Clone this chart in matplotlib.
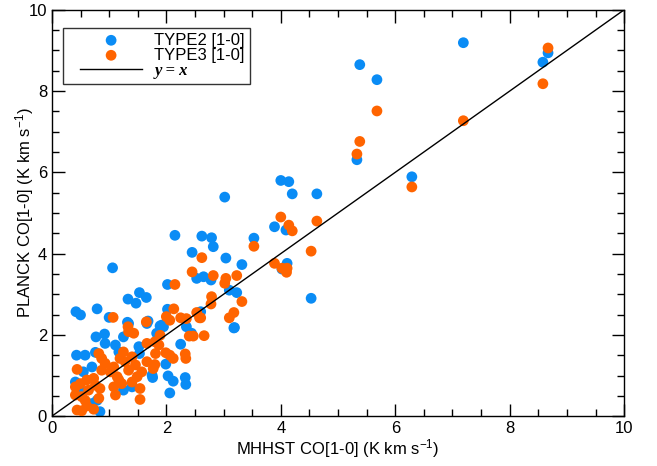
import numpy as np
import matplotlib
matplotlib.use("Agg")
import matplotlib.pyplot as plt
from matplotlib.ticker import MultipleLocator
from matplotlib.lines import Line2D
from matplotlib.legend_handler import HandlerLine2D

plt.rcParams['font.family'] = ['Liberation Sans', 'DejaVu Sans']
plt.rcParams['mathtext.fontset'] = 'custom'
plt.rcParams['mathtext.rm'] = 'Liberation Sans'
plt.rcParams['mathtext.it'] = 'Liberation Sans:italic'

# TYPE2 [1-0] points (MHHST, PLANCK)
type2_x = [7.19, 8.58, 8.67, 6.29, 5.38, 5.68, 5.33, 4.00, 4.14, 4.20, 4.63, 3.02,
           3.89, 4.09, 2.62, 2.79, 2.82, 3.53, 2.15, 2.45, 3.04, 3.32, 4.11, 4.02,
           2.65, 2.78, 2.53, 2.02, 3.10, 3.23, 2.60, 3.18, 4.53, 2.02, 1.92, 2.35,
           1.06, 1.53, 1.33, 1.65, 1.47, 0.42, 0.50, 0.79, 1.00, 1.32, 1.68, 1.89,
           1.95, 2.44, 3.19, 1.83, 2.25, 1.99, 1.76, 2.03, 2.12, 2.33, 2.34, 2.06,
           0.77, 0.92, 0.93, 0.43, 0.58, 0.76, 1.11, 1.17, 1.52, 1.53, 1.25, 1.34,
           1.66, 1.87, 1.75, 0.70, 0.55, 0.41, 0.79, 0.84, 0.70, 1.25, 1.40, 0.52]
type2_y = [9.19, 8.71, 8.94, 5.89, 8.65, 8.28, 6.31, 5.80, 5.77, 5.47, 5.47, 5.39,
           4.66, 4.58, 4.43, 4.39, 4.17, 4.38, 4.45, 4.03, 3.89, 3.73, 3.76, 3.62,
           3.43, 3.35, 3.39, 3.24, 3.10, 3.04, 2.57, 2.17, 2.90, 2.63, 2.24, 2.20,
           3.65, 3.04, 2.88, 2.92, 2.78, 2.57, 2.49, 2.64, 2.43, 2.31, 2.34, 2.22,
           2.20, 2.04, 2.18, 2.04, 1.77, 1.28, 0.95, 0.99, 0.86, 0.95, 0.78, 0.57,
           1.95, 2.02, 1.79, 1.50, 1.50, 1.57, 1.75, 1.58, 1.71, 1.54, 1.95, 2.28,
           2.28, 1.99, 1.01, 1.21, 1.09, 0.84, 0.39, 0.11, 0.31, 0.64, 0.72, 0.60]

# TYPE3 [1-0] points
type3_x = [8.67, 8.58, 7.19, 6.29, 5.68, 5.38, 5.33, 4.00, 4.14, 4.63, 4.20, 3.53,
           4.53, 3.89, 4.02, 4.11, 4.10, 2.62, 2.82, 3.04, 3.02, 3.23, 3.32, 2.79,
           2.78, 2.60, 3.18, 3.10, 2.66, 2.45, 2.15, 2.13, 2.25, 2.35, 2.00, 2.06,
           2.53, 2.58, 1.07, 1.65, 1.33, 2.40, 2.47, 1.80, 1.89, 1.99, 2.06, 2.12,
           2.33, 2.34, 1.80, 1.77, 0.82, 0.87, 0.93, 0.87, 0.44, 1.34, 1.43, 1.25,
           1.19, 1.28, 1.40, 1.46, 1.57, 1.49, 1.66, 1.87, 1.54, 1.17, 1.08, 1.11,
           1.22, 1.02, 1.14, 0.73, 0.61, 0.50, 0.41, 0.41, 0.52, 0.58, 0.44, 0.52,
           0.61, 0.73, 0.82, 0.84, 0.64, 0.76, 1.08, 1.34, 1.40, 1.54, 1.66, 1.81]
type3_y = [9.06, 8.18, 7.27, 5.64, 7.51, 6.76, 6.45, 4.90, 4.70, 4.80, 4.56, 4.18,
           4.06, 3.76, 3.64, 3.64, 3.54, 3.90, 3.46, 3.39, 3.27, 3.46, 2.82, 2.94,
           2.76, 2.42, 2.55, 2.42, 1.98, 3.55, 3.24, 2.64, 2.42, 2.40, 2.45, 2.36,
           2.55, 2.42, 2.43, 2.32, 2.20, 1.97, 1.97, 1.83, 1.99, 1.56, 1.50, 1.42,
           1.53, 1.42, 1.27, 1.17, 1.54, 1.42, 1.30, 1.13, 1.15, 2.08, 2.04, 1.58,
           1.42, 1.34, 1.46, 1.26, 1.09, 0.97, 1.79, 1.75, 0.41, 0.89, 0.72, 0.52,
           0.80, 1.09, 0.97, 0.93, 0.89, 0.80, 0.72, 0.52, 0.48, 0.39, 0.15, 0.13,
           0.25, 0.17, 0.44, 0.68, 0.64, 0.76, 1.21, 1.13, 0.84, 0.68, 1.34, 1.54]

blue = '#0a8cf5'
orange = '#ff6400'

fig = plt.figure(figsize=(6.57, 4.66), dpi=100)
ax = fig.add_axes([0.079, 0.107, 0.871, 0.872])

ax.scatter(type2_x, type2_y, s=60, color=blue, edgecolors='none', label='TYPE2 [1-0]', zorder=2)
ax.scatter(type3_x, type3_y, s=60, color=orange, edgecolors='none', label='TYPE3 [1-0]', zorder=3)
ax.plot([0, 10], [0, 10], color='black', lw=1, label='y = x', zorder=4)

ax.set_xlim(0, 10)
ax.set_ylim(0, 10)
ax.xaxis.set_major_locator(MultipleLocator(2))
ax.yaxis.set_major_locator(MultipleLocator(2))
ax.xaxis.set_minor_locator(MultipleLocator(0.5))
ax.yaxis.set_minor_locator(MultipleLocator(0.5))
ax.tick_params(which='both', direction='in', top=True, right=True, labelsize=12, width=1)
ax.tick_params(which='major', length=9)
ax.tick_params(which='minor', length=5)
for s in ax.spines.values():
    s.set_linewidth(1)

ax.set_xlabel('MHHST CO[1-0] (K km s$^{-1}$)', fontsize=12, labelpad=1)
ax.set_ylabel('PLANCK CO[1-0] (K km s$^{-1}$)', fontsize=12, labelpad=-5.5)

# shorter line inside a wide legend handle
leg = ax.legend(loc='upper left', bbox_to_anchor=(0.019, 0.956), borderaxespad=0,
                fontsize=12, frameon=True, fancybox=False, edgecolor='black',
                handlelength=5.2, handletextpad=0.0, borderpad=0.3, labelspacing=0.0,
                scatterpoints=1,
                handler_map={Line2D: HandlerLine2D(marker_pad=0.72, numpoints=2)})
leg.get_frame().set_linewidth(1)
t = leg.get_texts()[2]
t.set_fontfamily('Liberation Serif')
t.set_fontstyle('italic')
t.set_fontweight('bold')

fig.savefig('out.png', dpi=100)
